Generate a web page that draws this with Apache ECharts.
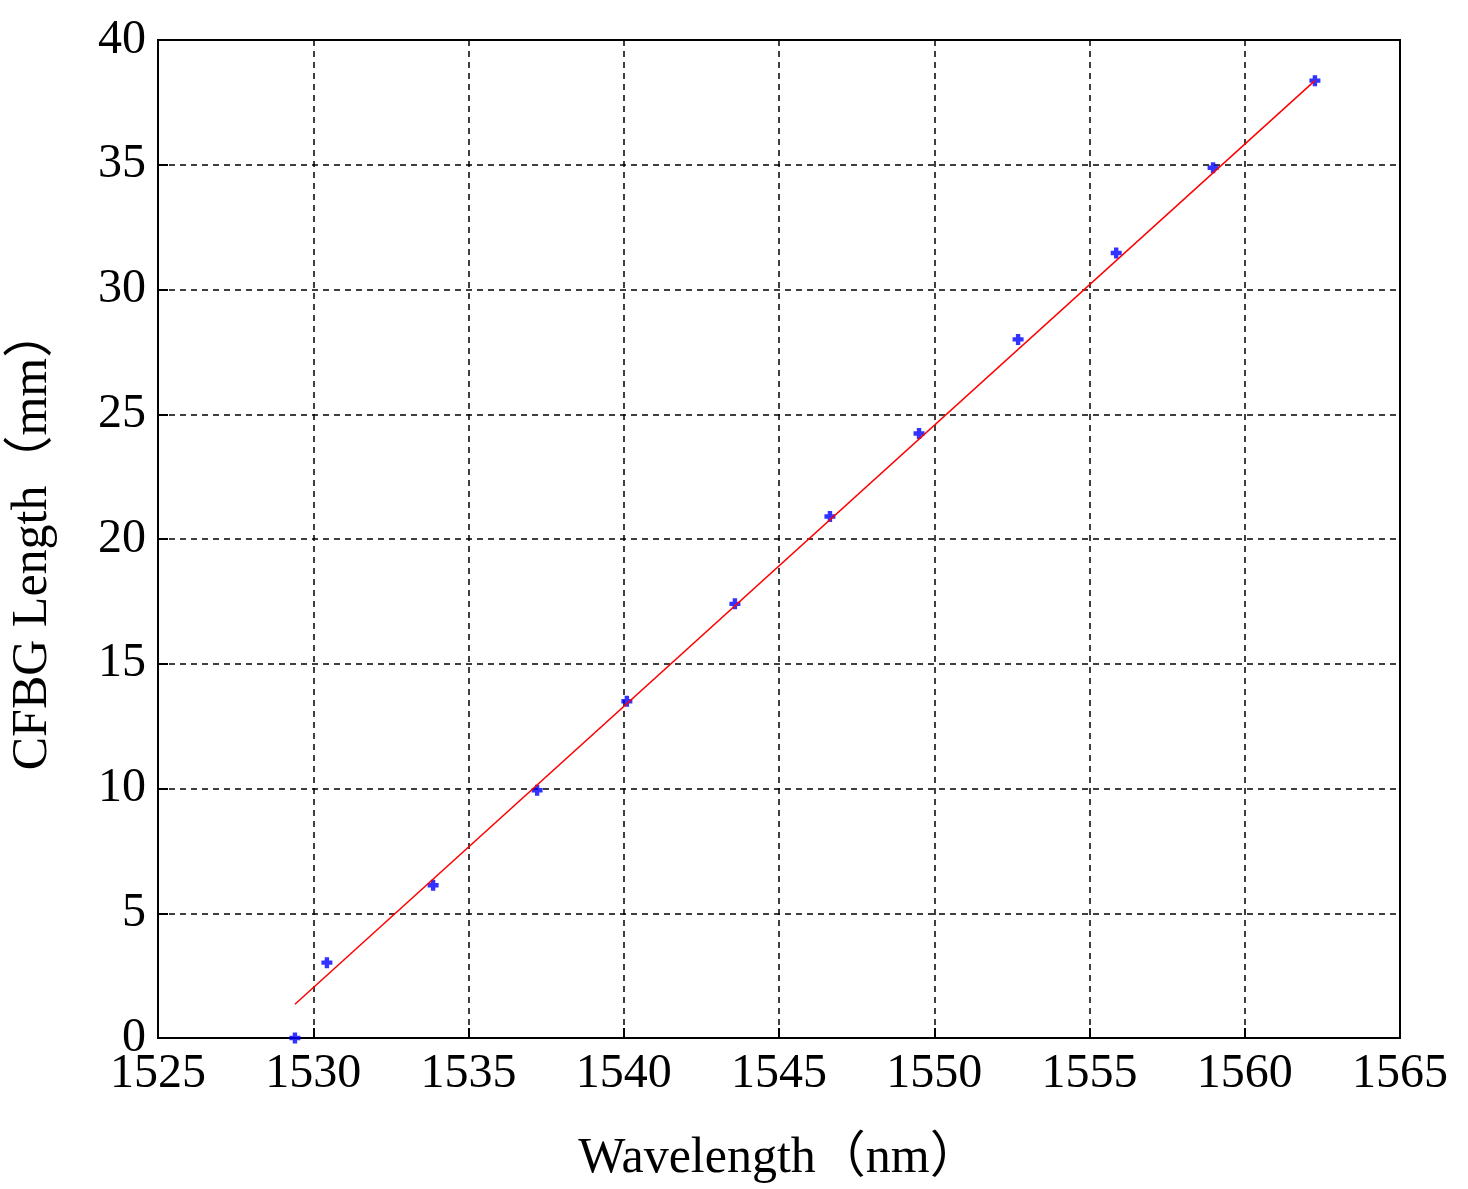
<!DOCTYPE html>
<html>
<head>
<meta charset="utf-8">
<script src="https://cdn.jsdelivr.net/npm/echarts@6/dist/echarts.min.js"></script>
<style>html,body{margin:0;background:#fff}#c{width:1468px;height:1189px}</style>
</head>
<body>
<div id="c"></div>
<script>
// measured points (wavelength nm, CFBG length mm)
const wavelengths = [1529.41, 1530.44, 1533.86, 1537.21, 1540.10, 1543.58, 1546.64, 1549.51, 1552.70, 1555.86, 1558.98, 1562.26]
const lengths = [0, 3.02, 6.12, 9.93, 13.5, 17.4, 20.9, 24.23, 28.0, 31.46, 34.88, 38.37]
// linear fit end points
const fitX = [1529.41, 1562.26]
const fitY = [1.35, 38.37]

const FONT = "'Liberation Serif', 'Noto Sans CJK SC', serif"
const axisCommon = {
  axisLine: {lineStyle: {color: "#000", width: 2}},
  axisTick: {inside: true, length: 10, lineStyle: {color: "#000", width: 2}},
  axisLabel: {color: "#000", fontFamily: FONT, fontSize: 48, formatter: v => String(v)},
  splitLine: {show: true, lineStyle: {color: "#000", width: 1.5, type: [6, 5]}},
  nameLocation: "middle",
  nameTextStyle: {color: "#000", fontFamily: FONT, fontSize: 50},
}

const chart = echarts.init(document.getElementById("c"), null, {renderer: "canvas"})
chart.setOption({
  animation: false,
  grid: {left: 158, right: 68, top: 40, bottom: 142, show: true, borderColor: "#000", borderWidth: 2},
  xAxis: {...axisCommon, type: "value", min: 1525, max: 1565, interval: 5,
    name: "Wavelength（nm）", nameGap: 96, axisLabel: {...axisCommon.axisLabel, margin: 12}},
  yAxis: {...axisCommon, type: "value", min: 0, max: 40, interval: 5,
    name: "CFBG Length（mm）", nameGap: 100, axisLabel: {...axisCommon.axisLabel, margin: 12}},
  series: [
    {type: "line", data: fitX.map((x, i) => [x, fitY[i]]), symbol: "none",
      lineStyle: {color: "#ff0000", width: 1.5}},
    {type: "scatter", data: wavelengths.map((x, i) => [x, lengths[i]]),
      symbol: "path://M3,0L7,0L7,3L10,3L10,7L7,7L7,10L3,10L3,7L0,7L0,3L3,3Z",
      symbolSize: 11, itemStyle: {color: "#0000ff"}},
  ],
})
</script>
</body>
</html>
